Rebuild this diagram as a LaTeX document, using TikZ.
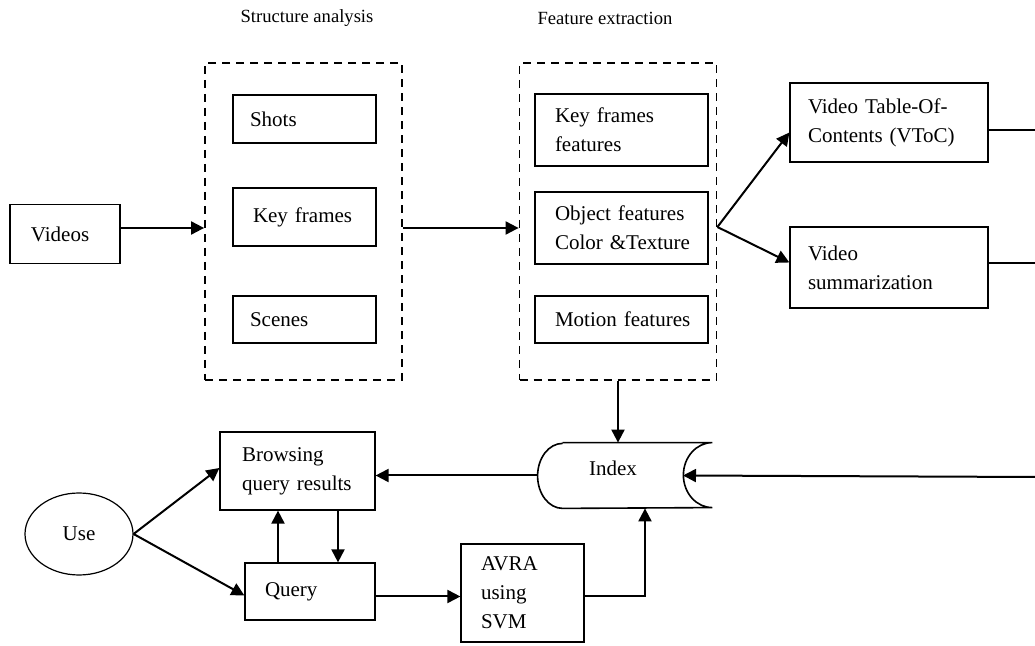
\documentclass[tikz,border=0pt]{standalone}
\usepackage{fontspec}
\setmainfont{Liberation Serif}
\usepackage{tikz}
\usetikzlibrary{arrows.meta, positioning, shapes.geometric, calc}

\begin{document}
\begin{tikzpicture}[x=0.5pt, y=-0.5pt,
    box/.style={draw, line width=0.6pt, inner sep=0pt, font=\fontsize{10.5}{14.5}\selectfont,
      execute at begin node={\parindent=0pt\leftskip=10pt\rightskip=0pt plus 1fill\hyphenpenalty=10000\relax}},
    lpad/.style={execute at begin node={\leftskip=#1\relax}},
    grp/.style={draw, dashed, dash pattern=on 4pt off 3pt, line width=0.9pt, minimum width=98.5pt, minimum height=158.5pt},
    lbl/.style={font=\fontsize{9.3}{11}\selectfont},
    arr/.style={-{Triangle[length=6.5pt, width=6.5pt]}, line width=1pt}]
    \useasboundingbox (0,0) rectangle (1035,646);

    \node[lbl] (l1) at (307,18) {Structure analysis};
    \node[lbl] (l2) at (605,18) {Feature extraction};

    \node[grp] (d1) at (303.5,221.5) {};
    \node[grp] (d2) at (618,221.5) {};

    \node[box, lpad=10.5pt, text width=55pt, minimum height=29.5pt] (v) at (65,234) {Videos};

    \node[box, lpad=8.5pt, text width=71.5pt, minimum height=24pt] (s) at (304.5,119) {Shots};
    \node[box, text width=71.5pt, minimum height=29pt] (k) at (304.5,217) {Key frames};
    \node[box, lpad=8.5pt, text width=71.5pt, minimum height=23.5pt] (c) at (304.5,319.5) {Scenes};

    \node[box, text width=86.5pt, minimum height=36pt] (f1) at (621.5,130) {Key frames\\features};
    \node[box, text width=86.5pt, minimum height=36pt] (f2) at (621.5,228) {Object features\\Color \&Texture};
    \node[box, text width=86.5pt, minimum height=23.5pt] (f3) at (621.5,319.5) {Motion features};

    \node[box, lpad=9pt, text width=99pt, minimum height=39.5pt] (t) at (889,122.5) {Video Table-Of-\\Contents (VToC)};
    \node[box, lpad=9pt, text width=99pt, minimum height=40.5pt] (m) at (889,267.5) {Video\\summarization};

    \node[minimum width=87pt, minimum height=32.5pt,
      label={[font=\fontsize{10.5}{14}\selectfont, xshift=-6pt, yshift=3.5pt]center:Index}] (ix) at (625,475.5) {};
    \coordinate (ixr) at (683,475.5);
    \draw[line width=0.8pt] ([xshift=12.5pt]ix.north west) -- (ix.north east)
        arc[start angle=90, end angle=270, x radius=14.5pt, y radius=16.25pt]
        -- ([xshift=12.5pt]ix.south west)
        arc[start angle=270, end angle=90, x radius=12.5pt, y radius=16.25pt];

    \node[box, lpad=11pt, text width=77.5pt, minimum height=39pt] (b) at (297.5,471) {Browsing\\query results};
    \node[box, text width=65pt, minimum height=28.5pt] (q) at (310,591.5) {Query};
    \node[box, text width=61.5pt, minimum height=49pt] (av) at (522.5,593) {AVRA\\using\\SVM};
    \node[draw, ellipse, line width=0.6pt, minimum width=54pt, minimum height=41pt, font=\fontsize{10.5}{14}\selectfont] (u) at (79,534) {Use};

    \coordinate (e1) at (1035,130);
    \coordinate (e2) at (1035,263);
    \coordinate (e3) at (1035,477);

    % top row
    \draw[arr] ([yshift=3pt]v.east) -- ([yshift=3pt]v.east -| d1.west);
    \draw[arr] ([yshift=-3.25pt]d1.east) -- ([yshift=-3.25pt]d1.east -| d2.west);
    \draw[arr] ([yshift=-2.75pt]d2.east) -- ([yshift=-5pt]t.west);
    \draw[arr] ([yshift=-2.75pt]d2.east) -- ([yshift=2.5pt]m.west);
    \draw[line width=0.8pt] (t.east |- e1) -- (e1);
    \draw[line width=0.8pt] (m.east |- e2) -- (e2);

    % index and query side
    \draw[arr] (d2.south) -- (d2.south |- ix.north);
    \draw[arr] (e3) -- (ixr);
    \draw[arr] (ix.west) -- (ix.west -| b.east);
    \draw[arr] (u.east) -- ([yshift=1.5pt]b.west);
    \draw[arr] (u.east) -- ([yshift=-2pt]q.west);
    \draw[arr] ([xshift=-16pt]q.north) -- ([xshift=-16pt]q.north |- b.south);
    \draw[arr] ([xshift=14pt]q.north |- b.south) -- ([xshift=14pt]q.north);
    \draw[arr] ([yshift=-2.5pt]q.east) -- ([yshift=-2.5pt]q.east -| av.west);
    \draw[arr] ([yshift=-1.5pt]av.east) -| ([xshift=10pt]ix.south);
  \end{tikzpicture}
\end{document}
